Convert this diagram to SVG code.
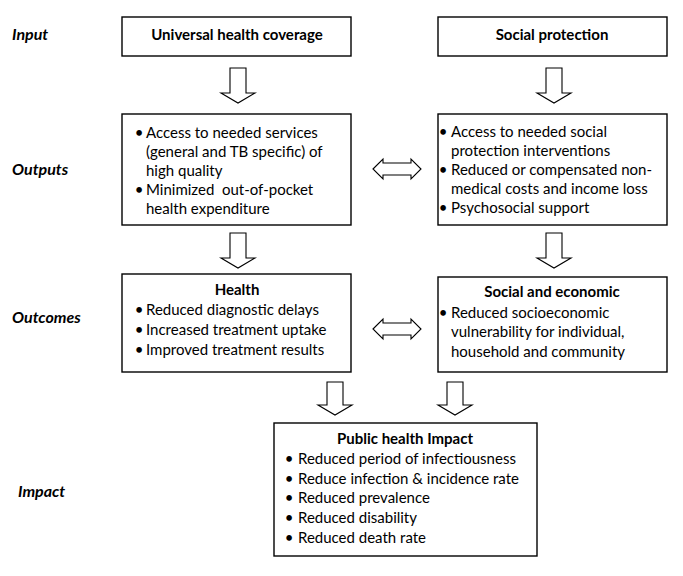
<svg xmlns="http://www.w3.org/2000/svg" width="683" height="576" viewBox="0 0 683 576">
<style>
  text { font-family: Lato, "Open Sans", "Liberation Sans", sans-serif; font-size: 15px; fill: #000; }
  .lbl { font-weight: bold; font-style: italic; font-size: 16px; }
  .ttl { font-weight: bold; text-anchor: middle; }
  .bul { text-anchor: middle; }
  .box { fill: #fff; stroke: #000; stroke-width: 1.4; }
  .arr { fill: #fff; stroke: #000; stroke-width: 1.1; stroke-linejoin: miter; }
</style>
<rect width="683" height="576" fill="#fff"/>

<g id="labels">
  <text class="lbl" x="12" y="40">Input</text>
  <text class="lbl" x="12" y="175">Outputs</text>
  <text class="lbl" x="12" y="323">Outcomes</text>
  <text class="lbl" x="18" y="497">Impact</text>
</g>

<g id="connectors">
  <polygon class="arr" points="230,68 246,68 246,93 255,93 238,103 221,93 230,93"/>
  <polygon class="arr" points="546,68 562,68 562,93 571,93 554,103 537,93 546,93"/>
  <polygon class="arr" points="230,233 246,233 246,258 255,258 238,268 221,258 230,258"/>
  <polygon class="arr" points="546,233 562,233 562,258 571,258 554,268 537,258 546,258"/>
  <polygon class="arr" points="327,382 343,382 343,405 352,405 335,415 318,405 327,405"/>
  <polygon class="arr" points="447,382 463,382 463,405 472,405 455,415 438,405 447,405"/>
  <polygon class="arr" points="373,169 383,159 383,163 411,163 411,159 421,169 411,179 411,175 383,175 383,179"/>
  <polygon class="arr" points="373,329 383,319 383,323 411,323 411,319 421,329 411,339 411,335 383,335 383,339"/>
</g>

<g id="uhc">
  <rect class="box" x="122" y="17" width="229" height="39"/>
  <text class="ttl" x="237" y="40">Universal health coverage</text>
</g>

<g id="social-protection">
  <rect class="box" x="438" y="17" width="229" height="39"/>
  <text class="ttl" x="552" y="40">Social protection</text>
</g>

<g id="uhc-outputs">
  <rect class="box" x="122" y="114" width="229" height="111"/>
  <text class="bul" x="139" y="138">•</text>
  <text x="146" y="138">Access to needed services</text>
  <text x="146" y="157">(general and TB specific) of</text>
  <text x="146" y="176">high quality</text>
  <text class="bul" x="139" y="195">•</text>
  <text x="146" y="195" xml:space="preserve">Minimized  out-of-pocket</text>
  <text x="146" y="214">health expenditure</text>
</g>

<g id="sp-outputs">
  <rect class="box" x="438" y="114" width="229" height="111"/>
  <text class="bul" x="443" y="137">•</text>
  <text x="451" y="137">Access to needed social</text>
  <text x="451" y="156">protection interventions</text>
  <text class="bul" x="443" y="175">•</text>
  <text x="451" y="175">Reduced or compensated non-</text>
  <text x="451" y="194">medical costs and income loss</text>
  <text class="bul" x="443" y="213">•</text>
  <text x="451" y="213">Psychosocial support</text>
</g>

<g id="health-outcomes">
  <rect class="box" x="122" y="274" width="229" height="98"/>
  <text class="ttl" x="237" y="295">Health</text>
  <text class="bul" x="139" y="315">•</text>
  <text x="146" y="315">Reduced diagnostic delays</text>
  <text class="bul" x="139" y="335">•</text>
  <text x="146" y="335">Increased treatment uptake</text>
  <text class="bul" x="139" y="355">•</text>
  <text x="146" y="355">Improved treatment results</text>
</g>

<g id="socioeconomic-outcomes">
  <rect class="box" x="438" y="277" width="229" height="95"/>
  <text class="ttl" x="552" y="297">Social and economic</text>
  <text class="bul" x="443" y="318">•</text>
  <text x="451" y="318">Reduced socioeconomic</text>
  <text x="451" y="337">vulnerability for individual,</text>
  <text x="451" y="357">household and community</text>
</g>

<g id="public-health-impact">
  <rect class="box" x="274" y="423" width="263" height="133"/>
  <text class="ttl" x="405" y="444">Public health Impact</text>
  <text class="bul" x="289" y="464">•</text>
  <text x="298" y="464">Reduced period of infectiousness</text>
  <text class="bul" x="289" y="483.5">•</text>
  <text x="298" y="483.5">Reduce infection &amp; incidence rate</text>
  <text class="bul" x="289" y="503">•</text>
  <text x="298" y="503">Reduced prevalence</text>
  <text class="bul" x="289" y="523">•</text>
  <text x="298" y="523">Reduced disability</text>
  <text class="bul" x="289" y="543">•</text>
  <text x="298" y="543">Reduced death rate</text>
</g>
</svg>
